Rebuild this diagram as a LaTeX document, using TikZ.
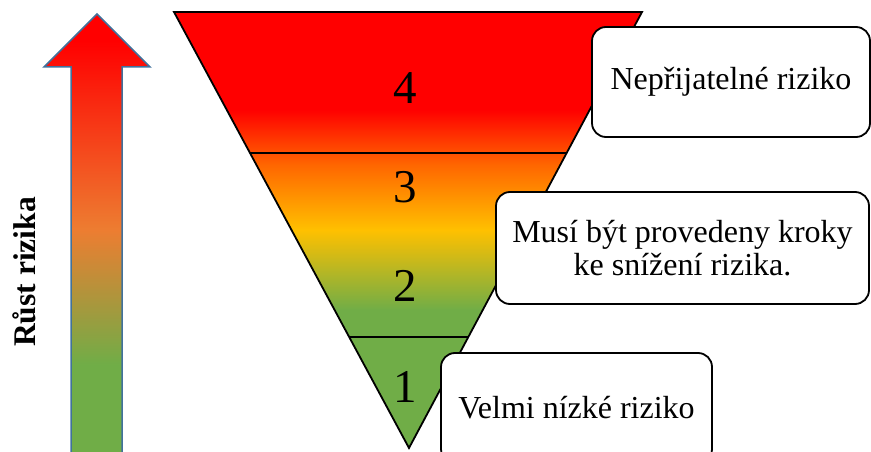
\documentclass[tikz,border=0pt]{standalone}
\usepackage{fontspec}
\setmainfont{Liberation Serif}
\usetikzlibrary{calc}
\definecolor{riskred}{HTML}{FF0000}
\definecolor{riskorange}{HTML}{FF6600}
\definecolor{riskyellow}{HTML}{FFC000}
\definecolor{riskgreen}{HTML}{70AD47}
\definecolor{arroworange}{HTML}{ED7D31}
\definecolor{arrowblue}{HTML}{41719C}
\pgfdeclareverticalshading{arrowfade}{100bp}{color(0bp)=(riskgreen); color(35.7bp)=(riskgreen); color(50.8bp)=(arroworange); color(72bp)=(riskred); color(100bp)=(riskred)}
\pgfdeclareverticalshading{funnelfade}{100bp}{color(0bp)=(riskgreen); color(40.8bp)=(riskgreen); color(50bp)=(riskyellow); color(57.5bp)=(riskorange); color(63.8bp)=(riskred); color(100bp)=(riskred)}
\begin{document}
\begin{tikzpicture}[x=1pt,y=-1pt, box/.style={draw,fill=white,line width=1.8pt,rounded corners=14pt,font=\fontsize{32}{33}\selectfont,align=center}, level/.style={font=\fontsize{47}{50}\selectfont}]
\useasboundingbox (0,0) rectangle (871,452);
\clip (0,0) rectangle (871,452);
\coordinate (tl) at (174,12);\coordinate (tr) at (642,12);\coordinate (ap) at (409,448);
\shadedraw[shading=arrowfade,draw=arrowblue,line width=1.5pt] (97,14) -- (150,67) -- (122,67) -- (122,460) -- (71,460) -- (71,67) -- (44,67) -- cycle;
\shadedraw[shading=funnelfade,line width=1.8pt] (tl) -- (tr) -- (ap) -- cycle;
\draw[line width=1.2pt] ($(tl)!0.3234!(ap)$) -- ($(tr)!0.3234!(ap)$);
\draw[line width=1.2pt] ($(tl)!0.7454!(ap)$) -- ($(tr)!0.7454!(ap)$);
\node (n4) [level] at (405,88) {4};\node (n3) [level] at (405,187) {3};
\node (n2) [level] at (405,286) {2};\node (n1) [level] at (405,387) {1};
\node (b4) [box,minimum width=278pt,minimum height=110pt] at (731,82) {Nepřijatelné riziko};
\node (b23) [box,minimum width=373pt,minimum height=112pt] at (682.5,248) {Musí být provedeny kroky\\ke snížení rizika.};
\node (b1) [box,minimum width=271pt,minimum height=110pt] at (576.5,408) {Velmi nízké riziko};
\node (rust) [rotate=90,anchor=base,font=\fontsize{31.5}{33}\selectfont\bfseries] at (35,272) {Růst rizika};
\end{tikzpicture}
\end{document}
